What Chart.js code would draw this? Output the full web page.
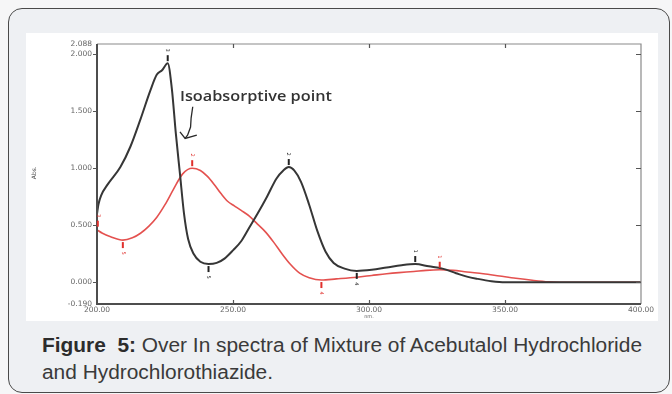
<!DOCTYPE html>
<html>
<head>
<meta charset="utf-8">
<script src="https://cdn.jsdelivr.net/npm/chart.js@4"></script>
<style>
  body { margin: 0; background: #f6f6f7; width: 672px; height: 394px; overflow: hidden; position: relative; }
  #box { position: absolute; left: 8px; top: 8px; width: 662px; height: 385px; box-sizing: border-box;
         border: 1.5px solid #4a4a4a; border-radius: 14px; background: #eef0f3; }
  #panel { position: absolute; left: 26px; top: 33px; width: 632px; height: 288px; background: #fff; }
  .cap { position: absolute; left: 42px; font-family: "Liberation Sans Narrow", "Liberation Sans", Arial, sans-serif;
         font-size: 19.5px; color: #3a3a3a; white-space: nowrap; transform-origin: 0 0; }
  .cap b { color: #2c2c2c; }
</style>
</head>
<body>
<div id="box"></div>
<div id="panel"><canvas id="spectra" width="632" height="288"></canvas></div>
<div class="cap" id="cap1" style="top:334px"><b>Figure&nbsp; 5:</b> Over In spectra of Mixture of Acebutalol Hydrochloride</div>
<div class="cap" id="cap2" style="top:361px">and Hydrochlorothiazide.</div>
<script>
// wavelength (nm) / absorbance
const nmBlack = [200, 200.5, 201.5, 204, 208.6, 212.3, 216, 219.6, 222, 224, 226, 227.5, 229, 230.5, 232, 233.5,
  235.5, 238, 241, 244, 247, 250, 253, 256, 259, 262.5, 266, 268.5, 270.5, 272.5, 275, 278, 281, 284, 287, 291,
  295.5, 301, 306.5, 312, 317, 322, 327, 332, 336, 340, 345, 350, 360, 380, 400];
const absBlack = [0.60, 0.68, 0.76, 0.86, 1.01, 1.19, 1.43, 1.68, 1.82, 1.86, 1.92, 1.70, 1.30, 0.95, 0.60, 0.38,
  0.25, 0.18, 0.16, 0.17, 0.21, 0.28, 0.36, 0.48, 0.60, 0.75, 0.91, 0.98, 1.01, 0.98, 0.88, 0.68, 0.45, 0.27, 0.17, 0.12,
  0.10, 0.11, 0.13, 0.15, 0.16, 0.14, 0.12, 0.08, 0.05, 0.03, 0.01, 0.0, 0.0, 0.0, 0.0];

const nmRed = [200, 202, 205, 209.5, 213, 216, 219, 222, 225, 228, 231.5, 235, 238, 240.5, 243, 245.5, 248, 250.5,
  253, 256, 259, 262, 265, 268, 271, 274.5, 278, 282.5, 288, 295.5, 301, 306.5, 311, 316.5, 321, 326, 331, 336, 342,
  348, 354, 360, 366, 375, 400];
const absRed = [0.46, 0.43, 0.40, 0.37, 0.39, 0.43, 0.49, 0.57, 0.68, 0.81, 0.95, 1.00, 0.98, 0.93, 0.86, 0.78, 0.71,
  0.67, 0.63, 0.58, 0.51, 0.44, 0.35, 0.25, 0.16, 0.08, 0.04, 0.02, 0.03, 0.045, 0.06, 0.075, 0.085, 0.095, 0.105,
  0.11, 0.105, 0.09, 0.075, 0.055, 0.035, 0.018, 0.005, 0, 0];

// peak / valley picks
const blackPeakNm = [226, 270.5, 317];
const blackPeakAbs = [1.92, 1.01, 0.16];
const blackValleyNm = [241, 295.5];
const blackValleyAbs = [0.16, 0.10];
const redPeakNm = [200.3, 235, 326];
const redPeakAbs = [0.47, 1.00, 0.11];
const redValleyNm = [209.5, 282.5];
const redValleyAbs = [0.37, 0.02];

const xTicks = [200, 250, 300, 350, 400];
const yTicks = [-0.19, 0, 0.5, 1, 1.5, 2, 2.088];

const noteText = 'Isoabsorptive point';
const noteAt = { x: 230.5, y: 1.62 };
// hand drawn arrow, in nm / Abs units
const arrowShaft = [[235.2, 1.538], [234.6, 1.439], [234.4, 1.36], [233.3, 1.289], [232.4, 1.261]];
const arrowHead = [[236.7, 1.289], [232.4, 1.261], [230.5, 1.318]];

const BLACK = '#363636';
const RED = '#e4514f';

const framePlugin = {
  id: 'frame',
  afterDatasetsDraw(chart) {
    const ctx = chart.ctx;
    const a = chart.chartArea;
    const xs = chart.scales.x, ys = chart.scales.y;
    ctx.save();

    // box round the plot
    ctx.strokeStyle = '#8a8a8a';
    ctx.lineWidth = 1.2;
    ctx.beginPath();
    ctx.moveTo(a.left, a.top); ctx.lineTo(a.right, a.top); ctx.lineTo(a.right, a.bottom);
    ctx.stroke();
    ctx.strokeStyle = '#4d4d4d';
    ctx.lineWidth = 2;
    ctx.beginPath();
    ctx.moveTo(a.left, a.top); ctx.lineTo(a.left, a.bottom); ctx.lineTo(a.right, a.bottom);
    ctx.stroke();

    // tick marks
    ctx.lineWidth = 1.2;
    ctx.strokeStyle = '#555';
    yTicks.slice(1, -1).forEach(v => {
      const py = Math.round(ys.getPixelForValue(v)) + 0.5;
      ctx.beginPath();
      ctx.moveTo(a.left - 4, py); ctx.lineTo(a.left, py);
      ctx.moveTo(a.right - 5, py); ctx.lineTo(a.right, py);
      ctx.stroke();
    });
    xTicks.slice(1, -1).forEach(v => {
      const px = Math.round(xs.getPixelForValue(v)) + 0.5;
      ctx.beginPath();
      ctx.moveTo(px, a.bottom); ctx.lineTo(px, a.bottom - 4);
      ctx.moveTo(px, a.top); ctx.lineTo(px, a.top + 4);
      ctx.stroke();
    });

    // peak picks
    const pick = (nms, vals, color, up, labels) => {
      nms.forEach((n, i) => {
        const px = xs.getPixelForValue(n);
        const py = ys.getPixelForValue(vals[i]);
        const d = up ? -1 : 1;
        ctx.fillStyle = color;
        ctx.fillRect(px - 1, up ? py - 8 : py + 2, 2, 6);
        ctx.save();
        ctx.translate(px, py + d * 13);
        ctx.rotate(Math.PI / 2);
        ctx.font = '5px "DejaVu Sans"';
        ctx.textAlign = 'center';
        ctx.textBaseline = 'middle';
        ctx.fillText(labels[i], 0, 0);
        ctx.restore();
      });
    };
    pick(blackPeakNm, blackPeakAbs, '#222', true, ['3', '2', '1']);
    pick(blackValleyNm, blackValleyAbs, '#222', false, ['5', '4']);
    pick(redPeakNm, redPeakAbs, '#e0302c', true, ['3', '2', '1']);
    pick(redValleyNm, redValleyAbs, '#e0302c', false, ['5', '4']);

    // annotation
    ctx.save();
    ctx.fillStyle = '#333';
    ctx.font = '600 14px "Open Sans"';
    ctx.textBaseline = 'middle';
    ctx.textAlign = 'left';
    const tx = xs.getPixelForValue(noteAt.x), ty = ys.getPixelForValue(noteAt.y);
    const sx = 152 / ctx.measureText(noteText).width;
    ctx.translate(tx, ty);
    ctx.scale(sx, 1);
    ctx.fillText(noteText, 0, 0);
    ctx.restore();
    ctx.strokeStyle = '#2a2a2a';
    ctx.lineWidth = 1.3;
    [arrowShaft, arrowHead].forEach(path => {
      ctx.beginPath();
      path.forEach((p, i) => {
        const px = xs.getPixelForValue(p[0]), py = ys.getPixelForValue(p[1]);
        if (i === 0) ctx.moveTo(px, py); else ctx.lineTo(px, py);
      });
      ctx.stroke();
    });

    // axis titles
    ctx.fillStyle = '#666';
    ctx.font = '5px "DejaVu Sans"';
    ctx.textAlign = 'center';
    ctx.textBaseline = 'middle';
    ctx.fillText('nm.', xs.getPixelForValue(300), a.bottom + 13);
    ctx.save();
    ctx.translate(8, ys.getPixelForValue(0.96));
    ctx.rotate(-Math.PI / 2);
    ctx.font = '6px "DejaVu Sans"';
    ctx.fillStyle = '#444';
    ctx.fillText('Abs.', 0, 0);
    ctx.restore();

    ctx.restore();
  }
};

new Chart(document.getElementById('spectra'), {
  type: 'line',
  data: {
    datasets: [{
      data: nmBlack.map((x, i) => ({ x: x, y: absBlack[i] })),
      borderColor: BLACK,
      borderWidth: 2,
      pointRadius: 0,
      cubicInterpolationMode: 'monotone'
    }, {
      data: nmRed.map((x, i) => ({ x: x, y: absRed[i] })),
      borderColor: RED,
      borderWidth: 1.6,
      pointRadius: 0,
      cubicInterpolationMode: 'monotone'
    }]
  },
  options: {
    responsive: false,
    animation: false,
    layout: { padding: { left: 0, top: 11, right: 17, bottom: 0 } },
    plugins: { legend: { display: false }, tooltip: { enabled: false } },
    scales: {
      x: {
        type: 'linear', min: 200, max: 400,
        grid: { display: false, drawTicks: false }, border: { display: false },
        afterBuildTicks: s => { s.ticks = xTicks.map(v => ({ value: v })); },
        afterFit: s => { s.height = 17; },
        ticks: {
          autoSkip: false, maxRotation: 0, padding: 2,
          color: '#666', font: { family: 'DejaVu Sans', size: 7.5 },
          callback: v => v.toFixed(2)
        }
      },
      y: {
        type: 'linear', min: -0.19, max: 2.088,
        grid: { display: false, drawTicks: false }, border: { display: false },
        afterBuildTicks: s => { s.ticks = yTicks.map(v => ({ value: v })); },
        afterFit: s => { s.width = 71; },
        ticks: {
          autoSkip: false, padding: 5,
          color: '#666', font: { family: 'DejaVu Sans', size: 7.5 },
          callback: v => v.toFixed(3)
        }
      }
    }
  },
  plugins: [framePlugin]
});

// squeeze caption lines to the printed width
const c1 = document.getElementById('cap1'), c2 = document.getElementById('cap2');
const k = 600 / c1.getBoundingClientRect().width;
c1.style.transform = 'scaleX(' + k + ')';
c2.style.transform = 'scaleX(' + k + ')';
</script>
</body>
</html>
